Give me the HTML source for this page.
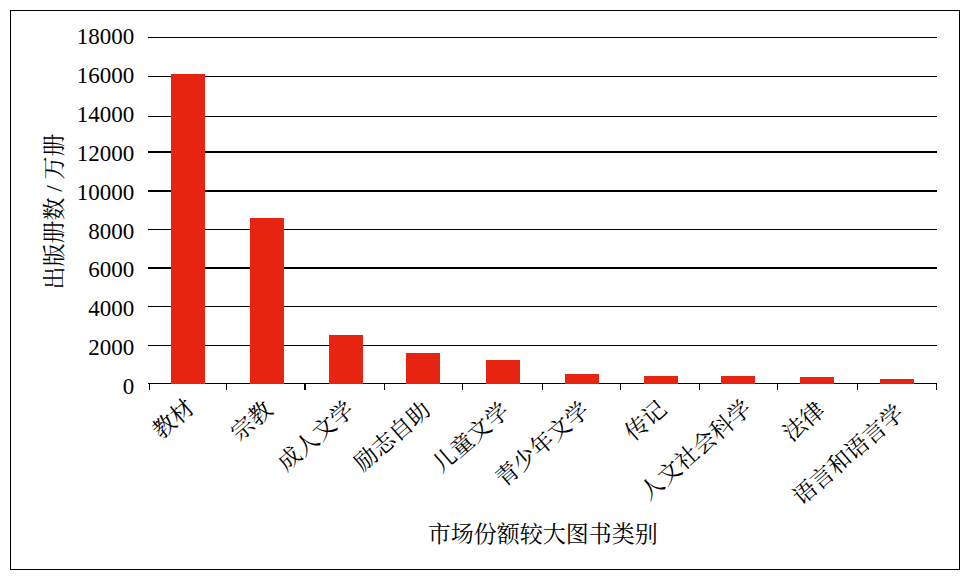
<!DOCTYPE html>
<html><head><meta charset="utf-8"><title>chart</title>
<style>html,body{margin:0;padding:0;background:#fff;overflow:hidden;font-family:"Liberation Serif","Noto Serif CJK SC",serif;}svg{display:block;}text{font-family:"Liberation Serif","Noto Serif CJK SC",serif;}</style></head><body>
<svg width="973" height="581" viewBox="0 0 973 581" role="img" aria-label="出版册数 / 万册 — 市场份额较大图书类别">
<rect x="0" y="0" width="973" height="581" fill="#fff"/>
<rect x="10.5" y="10.5" width="949" height="559" fill="none" stroke="#000" stroke-width="1" shape-rendering="crispEdges"/>
<g fill="#000" shape-rendering="crispEdges">
<rect x="148" y="37" width="789" height="1"/>
<rect x="148" y="76" width="789" height="1"/>
<rect x="148" y="116" width="789" height="1"/>
<rect x="148" y="151" width="789" height="2"/>
<rect x="148" y="190" width="789" height="2"/>
<rect x="148" y="229" width="789" height="1"/>
<rect x="148" y="267" width="789" height="2"/>
<rect x="148" y="306" width="789" height="1"/>
<rect x="148" y="345" width="789" height="1"/>
</g>
<g fill="#000" shape-rendering="crispEdges">
<rect x="148" y="383" width="789" height="1"/>
<rect x="149" y="383" width="1" height="7"/>
<rect x="226" y="383" width="1" height="7"/>
<rect x="304" y="383" width="2" height="7"/>
<rect x="384" y="383" width="1" height="7"/>
<rect x="462" y="383" width="1" height="7"/>
<rect x="542" y="383" width="1" height="7"/>
<rect x="620" y="383" width="1" height="7"/>
<rect x="699" y="383" width="1" height="7"/>
<rect x="777" y="383" width="1" height="7"/>
<rect x="857" y="383" width="1" height="7"/>
<rect x="936" y="383" width="1" height="7"/>
</g>
<g fill="#E72412" shape-rendering="crispEdges">
<rect x="171" y="74" width="34" height="310"/>
<rect x="250" y="218" width="34" height="166"/>
<rect x="329" y="335" width="34" height="49"/>
<rect x="406" y="353" width="34" height="31"/>
<rect x="486" y="360" width="34" height="24"/>
<rect x="565" y="374" width="34" height="10"/>
<rect x="644" y="376" width="34" height="8"/>
<rect x="721" y="376" width="34" height="8"/>
<rect x="800" y="377" width="34" height="7"/>
<rect x="880" y="379" width="34" height="5"/>
</g>
<g font-size="23" fill="#000">
<text x="134.3" y="43.85" text-anchor="end">18000</text>
<text x="134.3" y="82.75" text-anchor="end">16000</text>
<text x="134.3" y="121.65" text-anchor="end">14000</text>
<text x="134.3" y="160.95" text-anchor="end">12000</text>
<text x="134.3" y="199.75" text-anchor="end">10000</text>
<text x="134.3" y="239.05" text-anchor="end">8000</text>
<text x="134.3" y="277.25" text-anchor="end">6000</text>
<text x="134.3" y="316.15" text-anchor="end">4000</text>
<text x="134.3" y="355.05" text-anchor="end">2000</text>
<text x="134.3" y="393.95" text-anchor="end">0</text>
<text transform="translate(195.8,409.9) rotate(-41)" text-anchor="end">教材</text>
<text transform="translate(274.0,411.8) rotate(-41)" text-anchor="end">宗教</text>
<text transform="translate(355.7,411.9) rotate(-41)" text-anchor="end">成人文学</text>
<text transform="translate(432.2,412.2) rotate(-41)" text-anchor="end">励志自助</text>
<text transform="translate(510.8,413.2) rotate(-41)" text-anchor="end">儿童文学</text>
<text transform="translate(590.8,412.3) rotate(-41)" text-anchor="end">青少年文学</text>
<text transform="translate(668.1,411.5) rotate(-41)" text-anchor="end">传记</text>
<text transform="translate(753.0,410.7) rotate(-41)" text-anchor="end">人文社会科学</text>
<text transform="translate(826.3,412.4) rotate(-41)" text-anchor="end">法律</text>
<text transform="translate(905.6,415.5) rotate(-41)" text-anchor="end">语言和语言学</text>
<text x="427.7" y="541.5">市场份额较大图书类别</text>
<text transform="translate(61.7,289.4) rotate(-90)">出版册数 / 万册</text>
</g>
</svg></body></html>
